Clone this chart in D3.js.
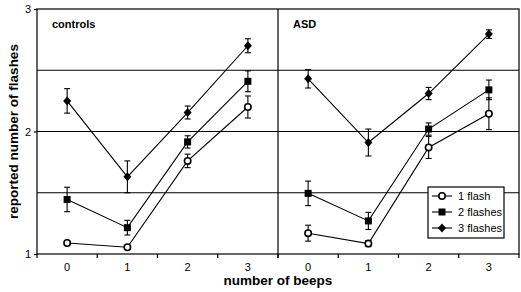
<!DOCTYPE html>
<html><head>
<meta charset="utf-8">
<script src="https://d3js.org/d3.v7.min.js"></script>
<style>
  body { margin: 0; background: #fff; }
  text { font-family: "Liberation Sans", Arial, sans-serif; fill: #000; }
  .tick text { font-size: 11px; }
  .lbl { font-size: 13.5px; font-weight: bold; }
  .panel { font-size: 11px; font-weight: bold; }
</style>
</head>
<body>
<svg id="chart" width="521" height="292"></svg>
<script>
// Data
const beeps = ["0", "1", "2", "3"];
const seriesNames = ["1 flash", "2 flashes", "3 flashes"];
const panels = ["controls", "ASD"];

// controls
const ctrl1 = [1.09, 1.055, 1.76, 2.20];
const ctrl1Err = [0.02, 0.0, 0.055, 0.09];
const ctrl2 = [1.445, 1.215, 1.915, 2.41];
const ctrl2Err = [0.10, 0.06, 0.05, 0.085];
const ctrl3 = [2.25, 1.63, 2.155, 2.70];
const ctrl3Err = [0.10, 0.13, 0.053, 0.057];

// ASD
const asd1 = [1.17, 1.085, 1.87, 2.145];
const asd1Err = [0.065, 0.025, 0.09, 0.13];
const asd2 = [1.495, 1.27, 2.02, 2.34];
const asd2Err = [0.10, 0.07, 0.05, 0.08];
const asd3 = [2.43, 1.91, 2.31, 2.795];
const asd3Err = [0.075, 0.11, 0.05, 0.035];

const yTicks = [1, 2, 3];
const gridVals = [1.5, 2, 2.5];

const panelData = [
  [ {v: ctrl1, e: ctrl1Err}, {v: ctrl2, e: ctrl2Err}, {v: ctrl3, e: ctrl3Err} ],
  [ {v: asd1, e: asd1Err}, {v: asd2, e: asd2Err}, {v: asd3, e: asd3Err} ]
];

const svg = d3.select("#chart");
const mLeft = 37, mRight = 519, mTop = 9, mBottom = 254;
const mid = (mLeft + mRight) / 2;

const y = d3.scaleLinear().domain([1, 3]).range([mBottom, mTop]);
const xPanel = [
  d3.scaleBand().domain(beeps).range([mLeft, mid]),
  d3.scaleBand().domain(beeps).range([mid, mRight])
];

// gridlines
svg.selectAll("line.grid").data(gridVals).join("line")
  .attr("class", "grid")
  .attr("x1", mLeft).attr("x2", mRight)
  .attr("y1", d => y(d)).attr("y2", d => y(d))
  .attr("stroke", "#000").attr("stroke-width", 1.2);

// frame
svg.append("rect")
  .attr("x", mLeft).attr("y", mTop)
  .attr("width", mRight - mLeft).attr("height", mBottom - mTop)
  .attr("fill", "none").attr("stroke", "#000").attr("stroke-width", 1.2);
svg.append("line")
  .attr("x1", mid).attr("x2", mid).attr("y1", mTop).attr("y2", mBottom)
  .attr("stroke", "#000").attr("stroke-width", 1.2);

// y axis
const yAxis = svg.append("g").attr("transform", `translate(${mLeft},0)`)
  .call(d3.axisLeft(y).tickValues(yTicks).tickFormat(d3.format("d")).tickSize(3).tickPadding(3));
yAxis.select(".domain").remove();
yAxis.selectAll("line").attr("stroke-width", 1.2);

// x axes (ticks at band boundaries, labels at centres)
xPanel.forEach(x => {
  const g = svg.append("g").attr("transform", `translate(0,${mBottom})`)
    .call(d3.axisBottom(x).tickSize(0).tickPadding(9));
  g.select(".domain").remove();
  g.selectAll("line.bound").data(x.domain().concat(["end"])).join("line")
    .attr("class", "bound")
    .attr("x1", (d, i) => x.range()[0] + i * x.step())
    .attr("x2", (d, i) => x.range()[0] + i * x.step())
    .attr("y1", 0).attr("y2", 4)
    .attr("stroke", "#000").attr("stroke-width", 1.2);
});

// panel titles
panels.forEach((p, i) => {
  svg.append("text").attr("class", "panel")
    .attr("x", xPanel[i].range()[0] + 15).attr("y", 28)
    .text(p);
});

// markers
function marker(sel, k) {
  if (k === 0) {
    sel.append("circle").attr("r", 3.2)
      .attr("fill", "#fff").attr("stroke", "#000").attr("stroke-width", 1.6);
  } else if (k === 1) {
    sel.append("rect").attr("x", -3.5).attr("y", -3.5).attr("width", 7).attr("height", 7)
      .attr("fill", "#000");
  } else {
    sel.append("path").attr("d", "M0,-4.5L4,0L0,4.5L-4,0Z").attr("fill", "#000");
  }
}

panelData.forEach((series, pi) => {
  const x = xPanel[pi];
  const cx = d => x(d) + x.bandwidth() / 2;
  series.forEach((s, k) => {
    const pts = beeps.map((b, i) => ({b: b, v: s.v[i], e: s.e[i]}));
    const g = svg.append("g");
    g.append("path").datum(pts)
      .attr("fill", "none").attr("stroke", "#000").attr("stroke-width", 1.1)
      .attr("d", d3.line().x(d => cx(d.b)).y(d => y(d.v)));
    // error bars
    const eb = g.selectAll("g.err").data(pts.filter(d => d.e > 0)).join("g").attr("class", "err");
    eb.append("line")
      .attr("x1", d => cx(d.b)).attr("x2", d => cx(d.b))
      .attr("y1", d => y(d.v - d.e)).attr("y2", d => y(d.v + d.e));
    eb.append("line")
      .attr("x1", d => cx(d.b) - 3).attr("x2", d => cx(d.b) + 3)
      .attr("y1", d => y(d.v - d.e)).attr("y2", d => y(d.v - d.e));
    eb.append("line")
      .attr("x1", d => cx(d.b) - 3).attr("x2", d => cx(d.b) + 3)
      .attr("y1", d => y(d.v + d.e)).attr("y2", d => y(d.v + d.e));
    eb.selectAll("line").attr("stroke", "#000").attr("stroke-width", 1.1);
    g.selectAll("g.pt").data(pts).join("g").attr("class", "pt")
      .attr("transform", d => `translate(${cx(d.b)},${y(d.v)})`)
      .each(function() { marker(d3.select(this), k); });
  });
});

// legend
const lg = svg.append("g").attr("transform", "translate(428,187)");
lg.append("rect").attr("width", 76).attr("height", 51)
  .attr("fill", "#fff").attr("stroke", "#000").attr("stroke-width", 1.2);
seriesNames.forEach((n, k) => {
  const row = lg.append("g").attr("transform", `translate(0,${9 + k * 16})`);
  row.append("line").attr("x1", 4).attr("x2", 24).attr("stroke", "#000").attr("stroke-width", 1.1);
  marker(row.append("g").attr("transform", "translate(14,0)"), k);
  row.append("text").attr("x", 30).attr("y", 4).style("font-size", "11px").text(n);
});

// axis titles
svg.append("text").attr("class", "lbl")
  .attr("text-anchor", "middle")
  .attr("x", mid).attr("y", 285)
  .text("number of beeps");
svg.append("text").attr("class", "lbl")
  .attr("text-anchor", "middle")
  .attr("transform", `translate(18,${(mTop + mBottom) / 2}) rotate(-90)`)
  .text("reported number of flashes");
</script>
</body></html>
